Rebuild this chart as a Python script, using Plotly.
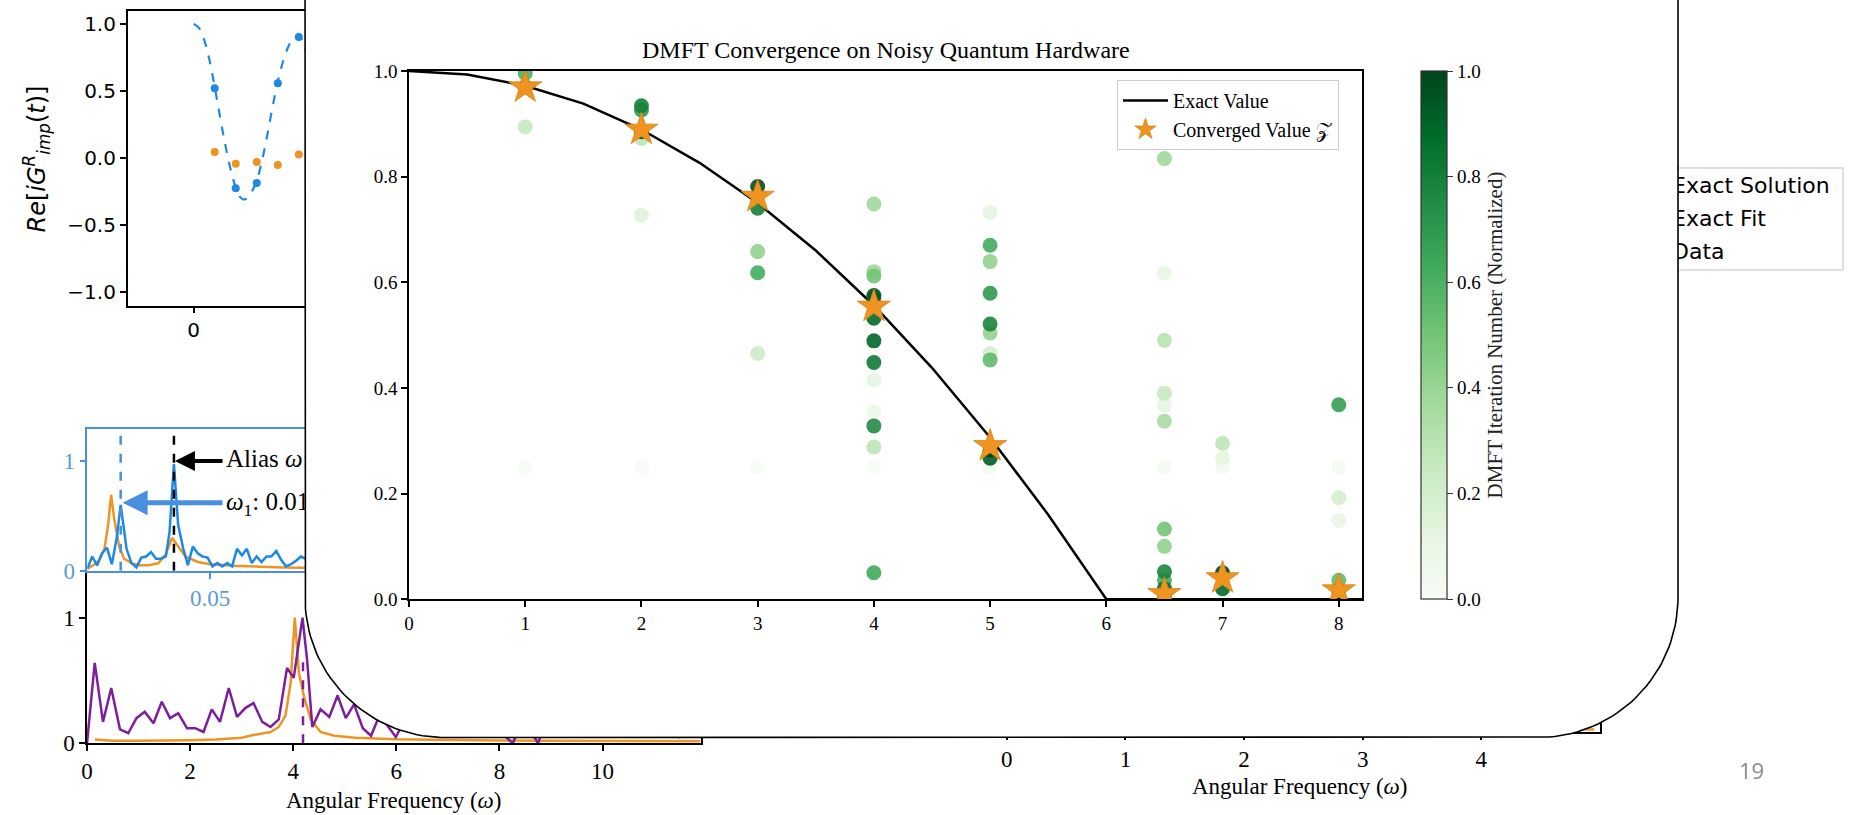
import numpy as np
import plotly.graph_objects as go

W, H = 1853, 815


def px(x):
    """Horizontal pixel -> paper fraction."""
    return x / W


def py(y):
    """Vertical pixel (from top) -> paper fraction."""
    return 1 - y / H


SERIF = "Liberation Serif"
SANS = "DejaVu Sans"

# ------------------------------------------------------------------
# Main panel: DMFT iterations, converged values and exact curve
# ------------------------------------------------------------------
ITER_OMEGA = [1, 1, 1, 1,
              2, 2, 2, 2, 2, 2,
              3, 3, 3, 3, 3, 3,
              4, 4, 4, 4, 4, 4, 4, 4, 4, 4, 4, 4, 4, 4,
              5, 5, 5, 5, 5, 5, 5, 5, 5, 5, 5,
              6.5, 6.5, 6.5, 6.5, 6.5, 6.5, 6.5, 6.5, 6.5, 6.5, 6.5, 6.5, 6.5,
              7, 7, 7, 7, 7,
              8, 8, 8, 8, 8, 8]
ITER_Z = [0.25, 0.894, 0.995, 0.97,
          0.25, 0.727, 0.872, 0.926, 0.934, 0.885,
          0.25, 0.465, 0.658, 0.618, 0.74, 0.781,
          0.25, 0.355, 0.415, 0.288, 0.748, 0.62, 0.612, 0.05, 0.328, 0.448, 0.489, 0.532, 0.57, 0.575,
          0.25, 0.732, 0.465, 0.504, 0.639, 0.453, 0.67, 0.579, 0.521, 0.267, 0.282,
          0.25, 0.617, 0.367, 0.39, 0.49, 0.337, 0.834, 0.1, 0.133, 0.036, 0.052, 0.02, 0.008,
          0.25, 0.267, 0.295, 0.02, 0.05,
          0.25, 0.149, 0.192, 0.036, 0.368, 0.017]
ITER_PROGRESS = [0.0, 0.25, 0.6, 0.9,
                 0.0, 0.15, 0.28, 0.7, 0.8, 0.95,
                 0.0, 0.22, 0.42, 0.62, 0.8, 0.97,
                 0.0, 0.08, 0.12, 0.28, 0.38, 0.38, 0.5, 0.63, 0.75, 0.82, 0.9, 0.88, 0.8, 0.95,
                 0.02, 0.12, 0.2, 0.42, 0.42, 0.55, 0.62, 0.7, 0.78, 0.92, 1.0,
                 0.03, 0.1, 0.12, 0.25, 0.3, 0.35, 0.38, 0.42, 0.5, 0.62, 0.78, 0.85, 1.0,
                 0.02, 0.12, 0.28, 0.88, 1.0,
                 0.02, 0.1, 0.2, 0.55, 0.68, 1.0]

CONV_OMEGA = [1, 2, 3, 4, 5, 6.5, 7, 8]
CONV_Z = [0.969, 0.889, 0.762, 0.554, 0.29, 0.01, 0.04, 0.017]

EXACT_OMEGA = [0, 0.5, 1, 1.5, 2, 2.5, 3, 3.5, 4, 4.5, 5, 5.5, 6, 8.2]
EXACT_Z = [1.0, 0.993, 0.972, 0.938, 0.889, 0.826, 0.75, 0.66, 0.556, 0.438, 0.306, 0.16, 0.0, 0.0]

MAIN_XTICKS = [0, 1, 2, 3, 4, 5, 6, 7, 8]
MAIN_YTICKS = [0.0, 0.2, 0.4, 0.6, 0.8, 1.0]
MAIN_YLABELS = ["0.0", "0.2", "0.4", "0.6", "0.8", "1.0"]

GREENS = [[0.0, "#f7fcf5"], [0.125, "#e5f5e0"], [0.25, "#c7e9c0"], [0.375, "#a1d99b"],
          [0.5, "#74c476"], [0.625, "#41ab5d"], [0.75, "#238b45"], [0.875, "#006d2c"],
          [1.0, "#00441b"]]

# ------------------------------------------------------------------
# Slide background: Green's function in time (top left)
# ------------------------------------------------------------------
T_CURVE = [0, 0.25, 0.5, 0.75, 1.0, 1.25, 1.5, 1.75, 2.0, 2.2, 2.4, 2.6, 2.8, 3.0,
           3.25, 3.5, 3.75, 4.0, 4.25, 4.5, 4.75, 5.0, 5.2, 5.4, 5.6]
G_CURVE = [1.0, 0.97, 0.88, 0.73, 0.53, 0.31, 0.1, -0.08, -0.22, -0.29, -0.31, -0.29, -0.24, -0.17,
           -0.02, 0.17, 0.38, 0.57, 0.72, 0.83, 0.9, 0.91, 0.87, 0.76, 0.6]
T_SAMPLES = [1, 2, 3, 4, 5]
G_SAMPLES = [0.52, -0.226, -0.186, 0.558, 0.903]
G_NOISY = [0.045, -0.042, -0.03, -0.052, 0.027]
TIME_TICKS = [0, 10, 20, 30, 40, 50, 60]

# ------------------------------------------------------------------
# Slide background: low-frequency inset spectrum
# ------------------------------------------------------------------
INSET_W_BLUE = [0.0, 0.002, 0.004, 0.006, 0.008, 0.010, 0.012, 0.0136, 0.016, 0.018, 0.020,
                0.022, 0.024, 0.026, 0.028, 0.030, 0.032, 0.0335, 0.0353, 0.037, 0.039, 0.041,
                0.043, 0.045, 0.047, 0.049, 0.051, 0.053, 0.055, 0.057, 0.059, 0.061, 0.063,
                0.065, 0.067, 0.069, 0.071, 0.073, 0.075, 0.077, 0.079, 0.081, 0.083, 0.085,
                0.087, 0.089, 0.091, 0.093, 0.095]
INSET_BLUE = [0.02, 0.13, 0.05, 0.16, 0.21, 0.06, 0.30, 0.60, 0.20, 0.07, 0.03,
              0.12, 0.13, 0.17, 0.11, 0.11, 0.13, 0.35, 0.97, 0.42, 0.21, 0.05,
              0.22, 0.16, 0.13, 0.12, 0.04, 0.07, 0.04, 0.07, 0.04, 0.20, 0.14,
              0.20, 0.07, 0.13, 0.08, 0.13, 0.13, 0.18, 0.10, 0.04, 0.06, 0.09,
              0.13, 0.11, 0.15, 0.08, 0.12]
INSET_W_ORANGE = [0.0, 0.003, 0.005, 0.007, 0.0085, 0.0097, 0.011, 0.013, 0.015, 0.018, 0.021,
                  0.025, 0.029, 0.032, 0.0345, 0.037, 0.040, 0.045, 0.050, 0.060, 0.070, 0.080,
                  0.095]
INSET_ORANGE = [0.02, 0.06, 0.10, 0.20, 0.42, 0.69, 0.47, 0.22, 0.11, 0.07, 0.05,
                0.05, 0.07, 0.15, 0.30, 0.22, 0.13, 0.08, 0.06, 0.045, 0.035, 0.03,
                0.025]
OMEGA_1 = 0.0136
OMEGA_ALIAS = 0.0353
INSET_XMAX = 0.19
INSET_YMAX = 1.29

# ------------------------------------------------------------------
# Slide background: full spectrum (bottom left)
# ------------------------------------------------------------------
SPEC_W_PURPLE = [0.0, 0.15, 0.31, 0.47, 0.64, 0.80, 0.96, 1.12, 1.29, 1.45, 1.61, 1.77, 1.94,
                 2.10, 2.26, 2.42, 2.58, 2.75, 2.91, 3.07, 3.23, 3.40, 3.56, 3.72, 3.88, 4.01,
                 4.18, 4.27, 4.37, 4.53, 4.70, 4.86, 5.02, 5.18, 5.35, 5.51, 5.67, 5.83, 5.99,
                 6.16, 6.32, 6.48, 6.64, 6.80, 6.97, 7.13, 7.29, 7.45, 7.61, 7.78, 7.94, 8.10,
                 8.26, 8.42, 8.59, 8.75, 8.91, 9.07, 9.23, 9.40, 9.56, 9.72, 9.88, 10.04,
                 10.21, 10.37, 10.53, 10.69, 10.85, 11.02, 11.18, 11.34, 11.50, 11.66, 11.82]
SPEC_PURPLE = [0.0, 0.64, 0.17, 0.44, 0.11, 0.08, 0.20, 0.25, 0.16, 0.33, 0.20, 0.24, 0.12,
               0.12, 0.09, 0.27, 0.17, 0.44, 0.21, 0.28, 0.32, 0.17, 0.13, 0.19, 0.60, 0.52,
               1.0, 0.66, 0.13, 0.27, 0.21, 0.38, 0.20, 0.31, 0.12, 0.06, 0.22, 0.14, 0.05,
               0.18, 0.10, 0.25, 0.15, 0.09, 0.21, 0.12, 0.30, 0.08, 0.19, 0.13, 0.24, 0.06,
               0.0, 0.16, 0.11, 0.0, 0.20, 0.14, 0.09, 0.22, 0.12, 0.17, 0.07, 0.15,
               0.10, 0.19, 0.06, 0.13, 0.09, 0.16, 0.08, 0.12, 0.05, 0.10, 0.07]
SPEC_W_ORANGE = [0.15, 0.5, 1.0, 1.5, 2.0, 2.5, 3.0, 3.23, 3.56, 3.72, 3.85, 3.95, 4.03, 4.11,
                 4.21, 4.34, 4.53, 4.8, 5.2, 6.0, 7.0, 8.0, 9.0, 10.0, 11.0, 11.9]
SPEC_ORANGE = [0.03, 0.02, 0.02, 0.02, 0.025, 0.03, 0.045, 0.066, 0.09, 0.13, 0.22, 0.48, 1.0, 0.56,
               0.37, 0.19, 0.09, 0.06, 0.045, 0.033, 0.026, 0.022, 0.02, 0.018, 0.017, 0.016]
OMEGA_PEAK = 4.19
OMEGA_PEAK_HEIGHT = 0.7
SPEC_XTICKS = [0, 2, 4, 6, 8, 10]

# ------------------------------------------------------------------
# Slide background: spectrum (bottom right)
# ------------------------------------------------------------------
D_OMEGA = [-0.1, 0.5, 1.0, 1.5, 2.0, 2.5, 3.0, 3.5, 4.0, 4.5, 4.8, 4.95]
D_ORANGE = [0.02, 0.03, 0.05, 0.12, 0.6, 0.15, 0.05, 0.03, 0.02, 0.015, 0.012, 0.01]
D_PURPLE = [0.05, 0.2, 0.1, 0.3, 0.9, 0.25, 0.12, 0.18, 0.08, 0.06, 0.0, 0.035]
D_XTICKS = [0, 1, 2, 3, 4]

LEGEND_LABELS = ["Exact Solution", "Exact Fit", "Data"]

BLUE = "#1e88e5"
BLUE_FRAME = "#4a8fdc"
BLUE_TICK = "#5b9bd9"
ORANGE = "#ef9421"
PURPLE = "#7e1e9c"


def axis(domain, rng, anchor, **kw):
    d = dict(domain=domain, range=rng, anchor=anchor, showgrid=False, zeroline=False,
             showline=True, linecolor="black", linewidth=1.5, ticks="outside", ticklen=6,
             tickwidth=1.5, tickcolor="black", mirror=True, fixedrange=True)
    d.update(kw)
    return d


def pixel_axis(anchor, reverse=False):
    return dict(domain=[0, 1], range=[H, 0] if reverse else [0, W], anchor=anchor,
                visible=False, fixedrange=True)


def rounded_outline(x0, x1, ytop, ybot, r, n=40):
    a1 = np.linspace(np.pi, np.pi / 2, n)
    a2 = np.linspace(np.pi / 2, 0, n)
    xs = [x0] + list(x0 + r + r * np.cos(a1)) + list(x1 - r + r * np.cos(a2)) + [x1, x0]
    ys = [ytop] + list(ybot - r + r * np.sin(a1)) + list(ybot - r + r * np.sin(a2)) + [ytop, ytop]
    return xs, ys


def label(text, x, y, font, **kw):
    d = dict(text=text, x=px(x), y=py(y), xref="paper", yref="paper", xanchor="center",
             yanchor="middle", showarrow=False, font=font)
    d.update(kw)
    return d


fig = go.Figure()
skip = dict(showlegend=False, hoverinfo="skip")

# --- top-left time series (x / y) ---
fig.add_trace(go.Scatter(x=T_CURVE, y=G_CURVE, mode="lines", line=dict(color=BLUE, width=2.2, dash="dash", shape="spline"),
                         xaxis="x", yaxis="y", **skip))
fig.add_trace(go.Scatter(x=T_SAMPLES, y=G_SAMPLES, mode="markers", marker=dict(color=BLUE, size=8),
                         xaxis="x", yaxis="y", **skip))
fig.add_trace(go.Scatter(x=T_SAMPLES, y=G_NOISY, mode="markers", marker=dict(color=ORANGE, size=8),
                         xaxis="x", yaxis="y", **skip))

# --- bottom-left spectrum (x2 / y2) ---
fig.add_trace(go.Scatter(x=SPEC_W_ORANGE, y=SPEC_ORANGE, mode="lines", line=dict(color=ORANGE, width=2.5),
                         xaxis="x2", yaxis="y2", **skip))
fig.add_trace(go.Scatter(x=SPEC_W_PURPLE, y=SPEC_PURPLE, mode="lines", line=dict(color=PURPLE, width=2.5),
                         xaxis="x2", yaxis="y2", **skip))
fig.add_trace(go.Scatter(x=[OMEGA_PEAK, OMEGA_PEAK], y=[0, OMEGA_PEAK_HEIGHT], mode="lines",
                         line=dict(color=PURPLE, width=2.5, dash="dash"), xaxis="x2", yaxis="y2", **skip))

# --- inset spectrum (x3 / y3) ---
fig.add_trace(go.Scatter(x=[0, INSET_XMAX, INSET_XMAX, 0, 0], y=[0, 0, INSET_YMAX, INSET_YMAX, 0],
                         mode="lines", fill="toself", fillcolor="white", line=dict(width=0),
                         xaxis="x3", yaxis="y3", **skip))
fig.add_trace(go.Scatter(x=INSET_W_ORANGE, y=INSET_ORANGE, mode="lines", line=dict(color=ORANGE, width=2.5),
                         xaxis="x3", yaxis="y3", **skip))
fig.add_trace(go.Scatter(x=INSET_W_BLUE, y=INSET_BLUE, mode="lines", line=dict(color=BLUE, width=2.5),
                         xaxis="x3", yaxis="y3", **skip))
fig.add_trace(go.Scatter(x=[OMEGA_1, OMEGA_1], y=[0, INSET_YMAX], mode="lines",
                         line=dict(color=BLUE_FRAME, width=2.5, dash="dash"), xaxis="x3", yaxis="y3", **skip))
fig.add_trace(go.Scatter(x=[OMEGA_ALIAS, OMEGA_ALIAS], y=[0, INSET_YMAX], mode="lines",
                         line=dict(color="black", width=2.5, dash="dash"), xaxis="x3", yaxis="y3", **skip))
fig.add_trace(go.Scatter(x=[0.0565, 0.0565], y=[1.0, 0.606], mode="text",
                         text=["Alias <i>ω</i>: 0.035", "<i>ω</i><sub>1</sub>: 0.014"],
                         textposition="middle right", textfont=dict(family=SERIF, size=25, color="black"),
                         xaxis="x3", yaxis="y3", **skip))

# --- bottom-right spectrum (x4 / y4) ---
fig.add_trace(go.Scatter(x=D_OMEGA, y=D_ORANGE, mode="lines", line=dict(color=ORANGE, width=2.5),
                         xaxis="x4", yaxis="y4", **skip))
fig.add_trace(go.Scatter(x=D_OMEGA, y=D_PURPLE, mode="lines", line=dict(color=PURPLE, width=2.5),
                         xaxis="x4", yaxis="y4", **skip))

# --- legend of the time-series panel, mostly covered (x5 / y5) ---
fig.add_trace(go.Scatter(x=[1560, 1843, 1843, 1560, 1560], y=[168, 168, 270, 270, 168], mode="lines",
                         line=dict(color="#d6d6d6", width=1.5), xaxis="x5", yaxis="y5", **skip))
fig.add_trace(go.Scatter(x=[1672, 1672, 1672], y=[187, 220, 253], mode="text", text=LEGEND_LABELS,
                         textposition="middle right", textfont=dict(family=SANS, size=22, color="black"),
                         xaxis="x5", yaxis="y5", **skip))

# --- white rounded card (x6 / y6) ---
bx, by = rounded_outline(305, 1678, -60, 737.5, 140)
fig.add_trace(go.Scatter(x=bx, y=by, mode="lines", fill="toself", fillcolor="white",
                         line=dict(color="black", width=1.6), xaxis="x6", yaxis="y6", **skip))

# --- main chart (x7 / y7) ---
fig.add_trace(go.Scatter(x=EXACT_OMEGA, y=EXACT_Z, mode="lines", name="Exact Value",
                         line=dict(color="black", width=2.5), xaxis="x7", yaxis="y7", hoverinfo="skip"))
fig.add_trace(go.Scatter(
    x=ITER_OMEGA, y=ITER_Z, mode="markers", showlegend=False, hoverinfo="skip",
    marker=dict(size=15, color=ITER_PROGRESS, colorscale=GREENS, cmin=0, cmax=1, opacity=0.9,
                line=dict(width=0),
                colorbar=dict(x=px(1421), xanchor="left", xpad=0, y=py(335), yanchor="middle",
                              len=528 / H, lenmode="fraction", ypad=0, thickness=26,
                              outlinewidth=1.2, outlinecolor="#333333", ticks="outside", ticklen=6,
                              tickwidth=1.2, tickcolor="#333333",
                              tickvals=MAIN_YTICKS, ticktext=MAIN_YLABELS,
                              tickfont=dict(family=SERIF, size=19, color="black"),
                              title=dict(text="DMFT Iteration Number (Normalized)", side="right",
                                         font=dict(family=SERIF, size=21, color="#222222")))),
    xaxis="x7", yaxis="y7"))
fig.add_trace(go.Scatter(x=CONV_OMEGA, y=CONV_Z, mode="markers", name="Converged Value 𝒵",
                         marker=dict(symbol="star", size=25, color=ORANGE, line=dict(color="#d98418", width=0.8)),
                         xaxis="x7", yaxis="y7", hoverinfo="skip"))

serif_ticks = dict(family=SERIF, size=23, color="black")

fig.update_layout(
    width=W, height=H, margin=dict(l=0, r=0, t=0, b=0, pad=0, autoexpand=False),
    paper_bgcolor="white", plot_bgcolor="rgba(0,0,0,0)", hovermode=False,
    xaxis=axis([px(127.7), px(1600)], [-3.14, 66.9], "y", tickvals=TIME_TICKS,
               tickfont=dict(family=SANS, size=20, color="black")),
    yaxis=axis([py(305.5), py(10.5)], [-1.1, 1.1], "x", tickvals=[-1, -0.5, 0, 0.5, 1],
               ticktext=["−1.0", "−0.5", "0.0", "0.5", "1.0"],
               tickfont=dict(family=SANS, size=20, color="black")),
    xaxis2=axis([px(87), px(700.5)], [0, 11.9], "y2", tickvals=SPEC_XTICKS, tickfont=serif_ticks),
    yaxis2=axis([py(743.3), py(429)], [0, 2.5], "x2", tickvals=[0, 1], tickfont=serif_ticks),
    xaxis3=axis([px(87.3), px(87.3 + INSET_XMAX / 0.05 * 122.7)], [0, INSET_XMAX], "y3", tickvals=[0.05],
                ticktext=["0.05"], linecolor=BLUE_FRAME, tickcolor=BLUE_FRAME,
                tickfont=dict(family=SERIF, size=23, color=BLUE_TICK)),
    yaxis3=axis([py(570.8), py(429)], [0, INSET_YMAX], "x3", tickvals=[0, 1], linecolor=BLUE_FRAME,
                tickcolor=BLUE_FRAME, tickfont=dict(family=SERIF, size=23, color=BLUE_TICK)),
    xaxis4=axis([px(983), px(1600)], [-0.2, 5.0], "y4", tickvals=D_XTICKS, tickfont=serif_ticks),
    yaxis4=axis([py(732), py(440)], [0, 1.2], "x4", showticklabels=False, ticks=""),
    xaxis5=pixel_axis("y5"), yaxis5=pixel_axis("x5", reverse=True),
    xaxis6=pixel_axis("y6"), yaxis6=pixel_axis("x6", reverse=True),
    xaxis7=axis([px(409), px(1362)], [0, 8.2], "y7", tickvals=MAIN_XTICKS,
                tickfont=dict(family=SERIF, size=19, color="black")),
    yaxis7=axis([py(599.2), py(70.9)], [0, 1], "x7", tickvals=MAIN_YTICKS, ticktext=MAIN_YLABELS,
                tickfont=dict(family=SERIF, size=19, color="black")),
    legend=dict(x=px(1117), y=py(80), xanchor="left", yanchor="top", bgcolor="white",
                bordercolor="#cccccc", borderwidth=1, itemwidth=45,
                font=dict(family=SERIF, size=20, color="black")),
    annotations=[
        label("DMFT Convergence on Noisy Quantum Hardware", 885.5, 50,
              dict(family=SERIF, size=24, color="black")),
        label("<i>Re</i>[<i>iG</i><sup><i>R</i></sup><sub><i>imp</i></sub>(<i>t</i>)]", 35.5, 159,
              dict(family=SANS, size=24, color="black"), textangle=-90),
        label("Angular Frequency (<i>ω</i>)", 393.8, 800, dict(family=SERIF, size=23, color="black")),
        label("Angular Frequency (<i>ω</i>)", 1300, 786, dict(family=SERIF, size=23, color="black")),
        label("19", 1751, 770, dict(family="Open Sans", size=22, color="#8c8c8c")),
        dict(text="", x=OMEGA_ALIAS + 0.0004, y=1.0, ax=0.0557, ay=1.0, xref="x3", yref="y3",
             axref="x3", ayref="y3", showarrow=True, arrowhead=2, arrowsize=1, arrowwidth=4,
             arrowcolor="black", standoff=0, startstandoff=0),
        dict(text="", x=OMEGA_1 + 0.0008, y=0.62, ax=0.0557, ay=0.62, xref="x3", yref="y3",
             axref="x3", ayref="y3", showarrow=True, arrowhead=2, arrowsize=1, arrowwidth=5,
             arrowcolor=BLUE_FRAME, standoff=0, startstandoff=0),
    ],
)

fig.write_html("out.html", config={"displayModeBar": False})
